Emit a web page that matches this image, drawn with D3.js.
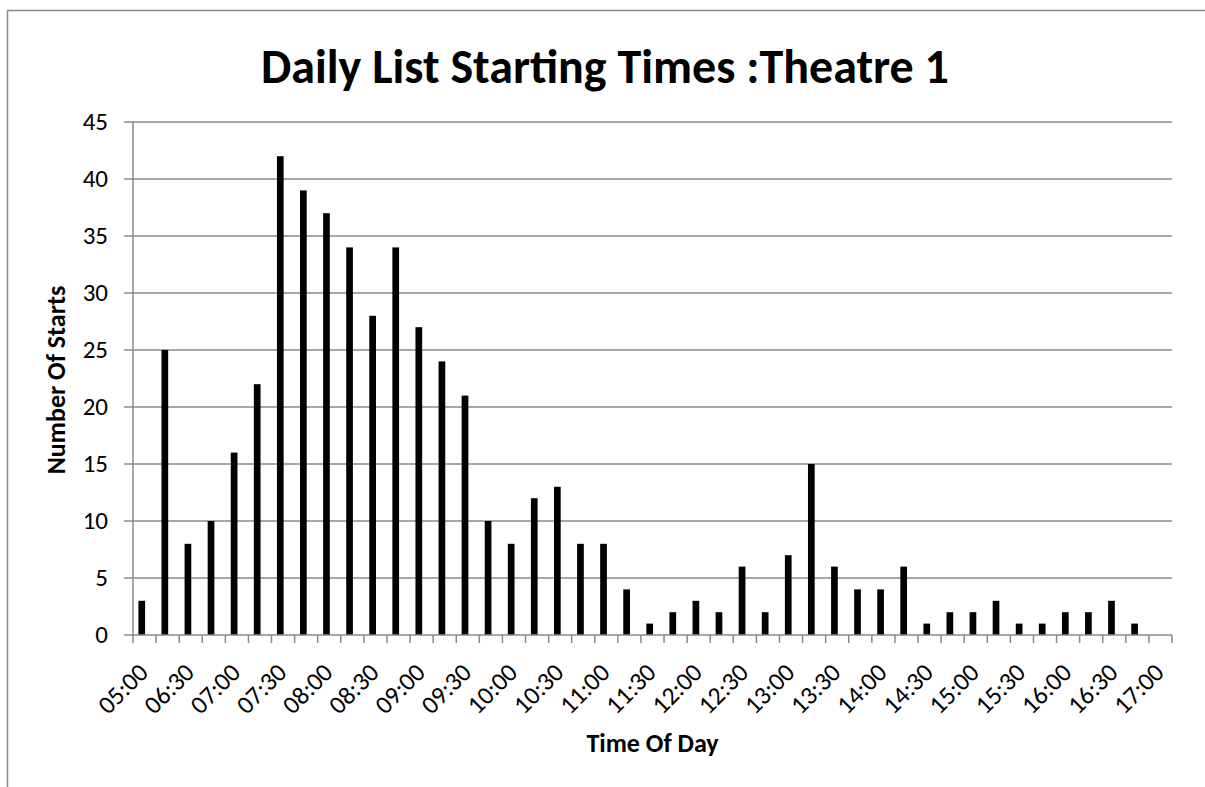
<!DOCTYPE html>
<html>
<head>
<meta charset="utf-8">
<script src="https://cdn.jsdelivr.net/npm/d3@7"></script>
<style>
    body { margin: 0; background: #fff; }
    text { font-family: Carlito, Calibri, Lato, sans-serif; }
</style>
</head>
<body>
<div id="canvas"></div>
<script>
// category labels, 15 minute slots (first slot is 05:00)
let times = ["05:00", "06:15", "06:30", "06:45", "07:00", "07:15", "07:30", "07:45",
    "08:00", "08:15", "08:30", "08:45", "09:00", "09:15", "09:30", "09:45",
    "10:00", "10:15", "10:30", "10:45", "11:00", "11:15", "11:30", "11:45",
    "12:00", "12:15", "12:30", "12:45", "13:00", "13:15", "13:30", "13:45",
    "14:00", "14:15", "14:30", "14:45", "15:00", "15:15", "15:30", "15:45",
    "16:00", "16:15", "16:30", "16:45", "17:00"];
let starts = [3, 25, 8, 10, 16, 22, 42, 39, 37, 34, 28, 34, 27, 24, 21, 10,
    8, 12, 13, 8, 8, 4, 1, 2, 3, 2, 6, 2, 7, 15, 6, 4,
    4, 6, 1, 2, 2, 3, 1, 1, 2, 2, 3, 1, 0];
let yTicks = [0, 5, 10, 15, 20, 25, 30, 35, 40, 45];

let width = 1205;
let height = 787;
let plotLeft = 133, plotRight = 1172, plotTop = 122, plotBottom = 635;
let grey = "#8a8a8a";

var svg = d3.select("#canvas").append("svg")
    .attr("width", width)
    .attr("height", height);

// chart border (runs off the right and bottom of the picture)
svg.append("rect")
    .attr("x", 7.5)
    .attr("y", 10.5)
    .attr("width", width + 20)
    .attr("height", height)
    .attr("fill", "none")
    .attr("stroke", grey)
    .attr("stroke-width", 1.5);

var xScale = d3.scaleBand()
    .domain(times)
    .range([plotLeft, plotRight]);

var yScale = d3.scaleLinear()
    .domain([0, 45])
    .range([plotBottom, plotTop]);

let bw = xScale.bandwidth();

// gridlines + little ticks left of the axis
svg.selectAll(".grid")
    .data(yTicks.slice(1))
    .enter().append("line")
    .attr("x1", plotLeft - 9)
    .attr("x2", plotRight)
    .attr("y1", d => yScale(d))
    .attr("y2", d => yScale(d))
    .attr("stroke", grey)
    .attr("stroke-width", 1.5);

svg.selectAll(".ylab")
    .data(yTicks)
    .enter().append("text")
    .attr("x", 108)
    .attr("y", d => yScale(d))
    .attr("dy", "0.33em")
    .attr("text-anchor", "end")
    .attr("font-size", 25)
    .attr("fill", "#000")
    .text(d => d);

// bars sit a bit left of the slot centre, like the excel original
svg.selectAll(".bar")
    .data(starts)
    .enter().append("rect")
    .attr("x", (d, i) => xScale(times[i]) + bw * 0.234)
    .attr("y", d => yScale(d))
    .attr("width", bw * 0.29)
    .attr("height", d => yScale(0) - yScale(d))
    .attr("fill", "#000");

// axes
svg.append("line")
    .attr("x1", plotLeft).attr("x2", plotLeft)
    .attr("y1", plotTop).attr("y2", plotBottom)
    .attr("stroke", grey).attr("stroke-width", 1.5);
svg.append("line")
    .attr("x1", plotLeft - 9).attr("x2", plotRight)
    .attr("y1", plotBottom).attr("y2", plotBottom)
    .attr("stroke", grey).attr("stroke-width", 1.5);

let edges = d3.range(times.length + 1).map(i => plotLeft + i * bw);
svg.selectAll(".xtick")
    .data(edges)
    .enter().append("line")
    .attr("x1", d => d).attr("x2", d => d)
    .attr("y1", plotBottom).attr("y2", plotBottom + 8)
    .attr("stroke", grey)
    .attr("stroke-width", 1.5);

// every second slot gets a label
svg.selectAll(".xlab")
    .data(times.filter((t, i) => i % 2 === 0))
    .enter().append("text")
    .attr("transform", d => "translate(" + (xScale(d) + bw / 2 + 5) + "," + 674 + ") rotate(-45)")
    .attr("text-anchor", "end")
    .attr("font-size", 25.5)
    .attr("fill", "#000")
    .text(d => d);

// titles
svg.append("text")
    .attr("x", 605)
    .attr("y", 83)
    .attr("text-anchor", "middle")
    .attr("font-size", 48)
    .attr("font-weight", "bold")
    .text("Daily List Starting Times :Theatre 1");

svg.append("text")
    .attr("x", (plotLeft + plotRight) / 2)
    .attr("y", 752)
    .attr("text-anchor", "middle")
    .attr("font-size", 26)
    .attr("font-weight", "bold")
    .text("Time Of Day");

svg.append("text")
    .attr("transform", "translate(65,380) rotate(-90)")
    .attr("text-anchor", "middle")
    .attr("font-size", 26)
    .attr("font-weight", "bold")
    .text("Number Of Starts");
</script>
</body>
</html>
